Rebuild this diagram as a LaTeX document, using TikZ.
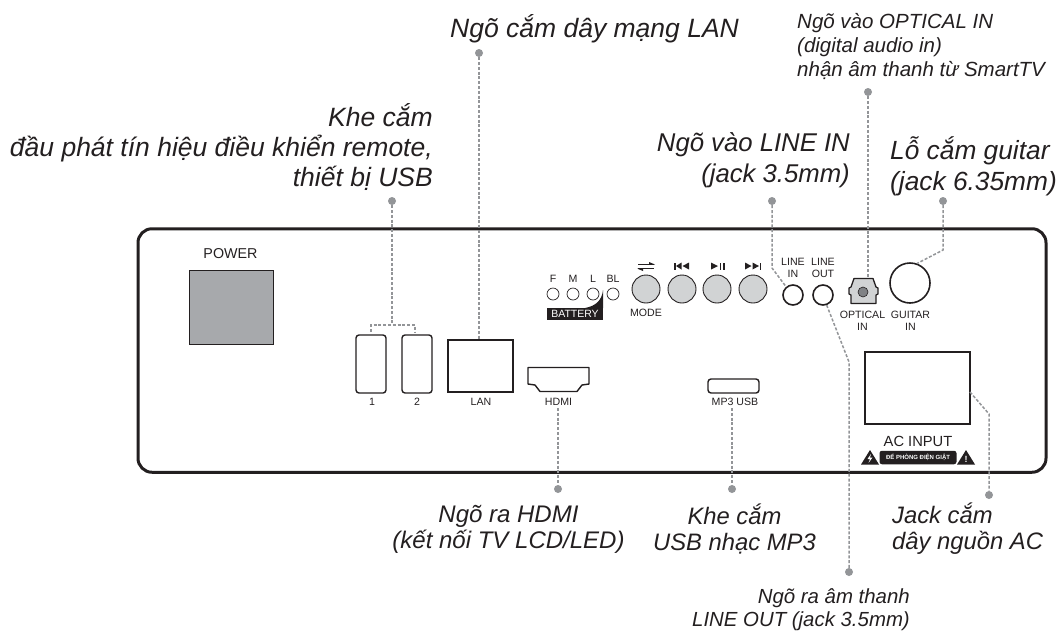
\documentclass[tikz,border=0pt]{standalone}
\usepackage{fontspec}
\setmainfont{Liberation Sans}
\definecolor{inkline}{HTML}{231F20}
\definecolor{leadgray}{HTML}{939598}
\definecolor{knobgray}{HTML}{D1D3D4}
\definecolor{powergray}{HTML}{A7A9AC}
\definecolor{eyegray}{HTML}{808285}
\tikzset{
    callout/.style 2 args={font=\fontsize{#1}{#2}\selectfont\itshape, text=inkline, inner sep=0pt},
    paneltext/.style={font=\fontsize{10.6}{12}\selectfont, text=inkline, inner sep=0pt, align=center},
    leaddot/.style={circle, fill=leadgray, inner sep=0pt, minimum size=8pt},
    lead/.style={leadgray, line width=1.5pt, dash pattern=on 3pt off 1.8pt},
    jack/.style={circle, draw=inkline, line width=1.6pt, fill=white, inner sep=0pt},
    knob/.style={circle, draw=inkline, line width=0.9pt, fill=knobgray, inner sep=0pt, minimum size=28pt},
    led/.style={circle, draw=inkline, line width=0.7pt, inner sep=0pt, minimum size=12pt},
    portbox/.style={draw=inkline, line width=1.4pt, inner sep=0pt},
}
\begin{document}
\begin{tikzpicture}[x=1pt, y=-1pt]
    \useasboundingbox (0,0) rectangle (1060,630);

    \node[draw=inkline, line width=3pt, rounded corners=14pt, minimum width=908pt, minimum height=243.5pt, inner sep=0pt] (panel) at (592,350.5) {};

    % power
    \node[draw=inkline, line width=0.7pt, fill=powergray, minimum width=84pt, minimum height=74pt, inner sep=0pt] (power) at (231,307) {};
    \node[paneltext, font=\fontsize{14.3}{16}\selectfont] (powerlabel) at (230.5,254) {POWER};

    % usb and lan
    \node[portbox, rounded corners=3pt, minimum width=30pt, minimum height=58pt] (usba) at (371,364) {};
    \node[portbox, rounded corners=3pt, minimum width=30pt, minimum height=58pt] (usbb) at (417,364) {};
    \node[paneltext] (usbalabel) at (372,402) {1};
    \node[paneltext] (usbblabel) at (417,402) {2};
    \node[portbox, minimum width=65pt, minimum height=52pt] (lan) at (480.5,366) {};
    \node[paneltext] (lanlabel) at (481,402) {LAN};

    % hdmi
    \draw[inkline, line width=1.4pt, line join=round] (528,367.5) -- (589,367.5) -- (589,384) -- (582,385) -- (577,391.5) -- (540,391.5) -- (535,385) -- (528,384) -- cycle;
    \node[paneltext] (hdmilabel) at (558.5,402) {HDMI};

    % mp3 usb
    \node[portbox, rounded corners=3pt, minimum width=51pt, minimum height=14pt] (mpusb) at (733.5,386) {};
    \node[paneltext] (mpusblabel) at (735,402) {MP3 USB};

    % battery
    \foreach \x/\t in {553/F, 573/M, 593/L, 613/BL} {
        \node[led] (led\t) at (\x,294) {};
        \node[paneltext] (ledlabel\t) at (\x,278.5) {\t};
    }
    \fill[inkline] (585,308) .. controls (596,306) and (602,300) .. (603,290) -- (603,308) -- cycle;
    \node[fill=inkline, text=white, font=\fontsize{10.5}{11}\selectfont, minimum width=56pt, minimum height=12pt, inner sep=0pt] (battery) at (575,314) {BATTERY};

    % knobs
    \foreach \x/\t in {646/mode, 682/prev, 717/play, 753/next} {
        \node[knob] (\t) at (\x,289) {};
    }
    \node[paneltext] (modelabel) at (646,313) {MODE};
    \draw[inkline, line width=1pt] (638,264.5) -- (654,264.5);
    \draw[inkline, line width=1pt] (638,268.5) -- (654,268.5);
    \fill[inkline] (649,262) -- (655,264.5) -- (649,264.5) -- cycle;
    \fill[inkline] (643,271) -- (637,268.5) -- (643,268.5) -- cycle;
    \fill[inkline] (674,262.5) rectangle (675.5,269.5);
    \fill[inkline] (681.5,262.5) -- (681.5,269.5) -- (676,266) -- cycle;
    \fill[inkline] (689,262.5) -- (689,269.5) -- (682.5,266) -- cycle;
    \fill[inkline] (711,262.5) -- (711,269.5) -- (718,266) -- cycle;
    \fill[inkline] (719.5,262.5) rectangle (721,269.5);
    \fill[inkline] (723,262.5) rectangle (724.5,269.5);
    \fill[inkline] (745,262.5) -- (745,269.5) -- (751.5,266) -- cycle;
    \fill[inkline] (752.5,262.5) -- (752.5,269.5) -- (759,266) -- cycle;
    \fill[inkline] (759.5,262.5) rectangle (761,269.5);

    % audio jacks
    \node[jack, minimum size=20pt] (linein) at (793,295) {};
    \node[jack, minimum size=20pt] (lineout) at (823,295) {};
    \node[paneltext] (lineinlabel) at (793,267.5) {LINE\\IN};
    \node[paneltext] (lineoutlabel) at (823,267.5) {LINE\\OUT};
    \node[jack, minimum size=40pt] (guitar) at (910,283) {};
    \node[paneltext] (guitarlabel) at (910.5,321) {GUITAR\\IN};

    % optical
    \filldraw[draw=inkline, fill=knobgray, line width=1.3pt, line join=round] (854,278.5) -- (873,278.5) -- (876,287) -- (878,288) -- (878,294) -- (876,295) -- (876,303.5) -- (851,303.5) -- (851,295) -- (849,294) -- (849,288) -- (851,287) -- cycle;
    \coordinate (optical) at (868,278.5);
    \node[circle, draw=inkline, line width=0.6pt, fill=eyegray, inner sep=0pt, minimum size=10pt] (opticaleye) at (863,292) {};
    \node[paneltext] (opticallabel) at (862.5,321) {OPTICAL\\IN};

    % ac input
    \node[portbox, minimum width=105pt, minimum height=72pt] (acin) at (917.5,388) {};
    \node[paneltext, font=\fontsize{14.7}{17}\selectfont] (aclabel) at (918,441) {AC INPUT};
    \node[fill=inkline, text=white, rounded corners=2.5pt, minimum width=77pt, minimum height=13.5pt, inner sep=0pt, font=\fontsize{6}{6}\selectfont\bfseries] (acwarn) at (918,457.5) {ĐỂ PHÒNG ĐIỆN GIẬT};
    \fill[inkline] (861,464.5) -- (870,450) -- (879,464.5) -- cycle;
    \fill[inkline] (957,464.5) -- (966,450) -- (975,464.5) -- cycle;
    \fill[white] (871,454) -- (867.5,459) -- (870,459) -- (868.5,463) -- (872.5,457.5) -- (870,457.5) -- cycle;
    \node[text=white, inner sep=0pt, font=\fontsize{9}{9}\selectfont\bfseries] (acmark) at (966,459) {!};

    % lead lines
    \node[leaddot] (dotusb) at (392,201) {};
    \coordinate (usbjoint) at (392,325);
    \coordinate (usbleft) at (371,325);
    \coordinate (usbright) at (415,325);
    \coordinate (usbleftend) at (371,332);
    \coordinate (usbrightend) at (415,332);
    \draw[lead] (dotusb) -- (usbjoint);
    \draw[lead] (usbleftend) -- (usbleft) -- (usbright) -- (usbrightend);

    \node[leaddot] (dotlan) at (479,53) {};
    \draw[lead] (dotlan) -- (dotlan |- lan.north);

    \node[leaddot] (dothdmi) at (558,489) {};
    \coordinate (hdmitop) at (558,408);
    \draw[lead] (hdmitop) -- (dothdmi);

    \node[leaddot] (dotmp) at (732,489) {};
    \coordinate (mptop) at (732,408);
    \draw[lead] (mptop) -- (dotmp);

    \node[leaddot] (dotin) at (772,201) {};
    \coordinate (inbend) at (772,268);
    \draw[lead] (dotin) -- (inbend) -- (linein.130);

    \node[leaddot] (dotopt) at (868,92) {};
    \draw[lead] (dotopt) -- (optical);

    \node[leaddot] (dotgtr) at (943,201) {};
    \coordinate (gtrbend) at (943,250);
    \draw[lead] (dotgtr) -- (gtrbend) -- (guitar.70);

    \node[leaddot] (dotout) at (849,572) {};
    \coordinate (outbend) at (849,362);
    \draw[lead] (lineout.-70) -- (outbend) -- (dotout);

    \node[leaddot] (dotac) at (989,495) {};
    \coordinate (acstart) at (970,392);
    \coordinate (acbend) at (989,414);
    \draw[lead] (acstart) -- (acbend) -- (dotac);

    % callouts
    \node[callout={26.5}{30}, anchor=base west] (lanname) at (450,37) {Ngõ cắm dây mạng LAN};
    \node[callout={26.5}{30}, anchor=east, align=right] (usbname) at (433,147) {Khe cắm\\đầu phát tín hiệu điều khiển remote,\\thiết bị USB};
    \node[callout={20.5}{24}, anchor=west, align=left] (optname) at (797,47) {Ngõ vào OPTICAL IN\\(digital audio in)\\nhận âm thanh từ SmartTV};
    \node[callout={25.7}{31}, anchor=east, align=right] (inname) at (850,160) {Ngõ vào LINE IN\\(jack 3.5mm)};
    \node[callout={26.3}{31}, anchor=west, align=left] (gtrname) at (890,166) {Lỗ cắm guitar\\(jack 6.35mm)};
    \node[callout={24}{26}, align=center] (hdminame) at (508.5,529) {Ngõ ra HDMI\\(kết nối TV LCD/LED)};
    \node[callout={23.8}{26}, align=center] (mpname) at (734.5,529) {Khe cắm\\USB nhạc MP3};
    \node[callout={23.8}{26}, anchor=west, align=left] (acname) at (892,529) {Jack cắm\\dây nguồn AC};
    \node[callout={20.4}{23}, anchor=east, align=right] (outname) at (910,610) {Ngõ ra âm thanh\\LINE OUT (jack 3.5mm)};
\end{tikzpicture}
\end{document}
